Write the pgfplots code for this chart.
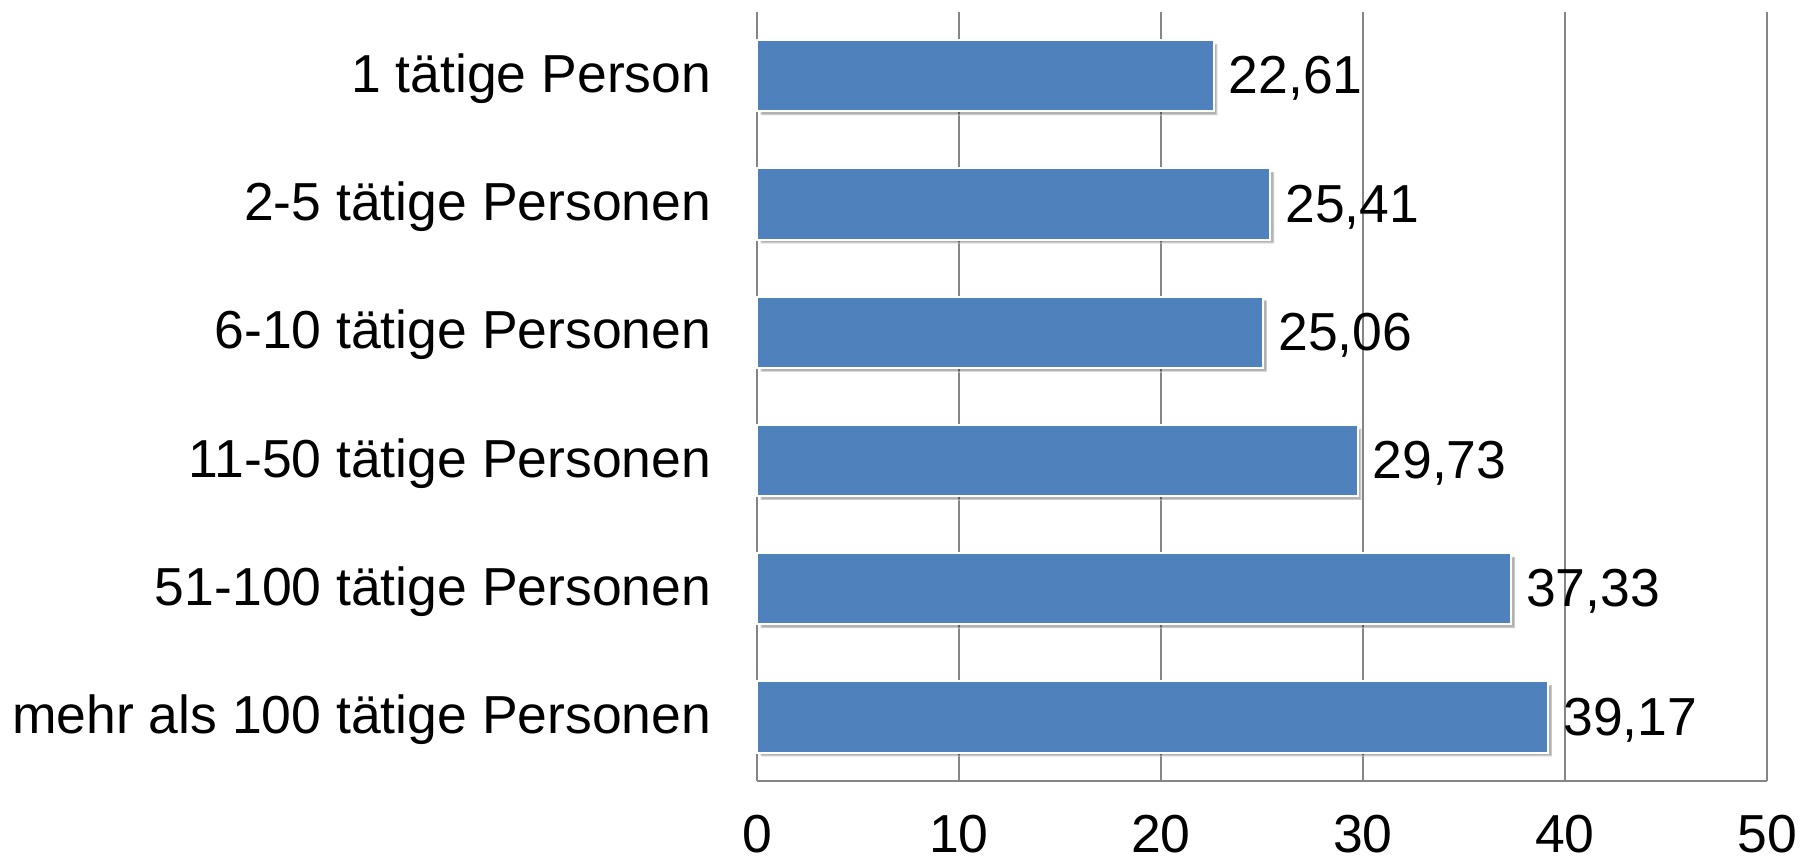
\documentclass[border=0pt]{standalone}
\usepackage{fontspec}
\setmainfont{Liberation Sans}
\usepackage{pgfplots}
\pgfplotsset{compat=1.18}
\usetikzlibrary{shadows}
\definecolor{barblue}{HTML}{4F81BD}
\definecolor{gridgray}{HTML}{868686}
\begin{document}
\begin{tikzpicture}[x=1pt,y=1pt]
\path[use as bounding box] (0,0) rectangle (720.4,345.6);
\begin{axis}[
  at={(302.8pt,33.2pt)}, anchor=south west,
  scale only axis, width=404pt, height=307.8pt,
  xbar, bar width=28.5pt,
  xmin=0, xmax=50, ymin=-0.5, ymax=5.5, y dir=reverse,
  xtick={0,10,20,30,40,50},
  xticklabels={0,10,20,30,40,50},
  ytick={0,1,2,3,4,5},
  yticklabels={1 tätige Person,2-5 tätige Personen,6-10 tätige Personen,11-50 tätige Personen,51-100 tätige Personen,mehr als 100 tätige Personen},
  axis x line=bottom, axis y line=left,
  axis line style={-, draw=gridgray, line width=0.8pt},
  xmajorgrids, major grid style={draw=gridgray, line width=0.8pt},
  major tick length=0pt,
  tick style={draw=none},
  font=\fontsize{21.4}{25}\selectfont,
  ticklabel style={font=\fontsize{21.4}{25}\selectfont, text=black},
  yticklabel style={xshift=-14.8pt, yshift=-1.2pt},
  xticklabel style={inner sep=0pt, yshift=-13.4pt},
  /pgf/number format/assume math mode=true,
  nodes near coords={\pgfmathprintnumber[fixed,precision=2,fixed zerofill,use comma,assume math mode=true]{\pgfplotspointmeta}},
  nodes near coords align={horizontal},
  every node near coord/.append style={font=\fontsize{21.4}{25}\selectfont, text=black, xshift=2.3pt, yshift=-1.2pt},
  clip=false,
]
\addplot[fill=barblue, draw=white, line width=0.8pt,
  drop shadow={shadow xshift=1.5pt, shadow yshift=-1.5pt, opacity=0.3, fill=black}]
  coordinates {(22.61,0) (25.41,1) (25.06,2) (29.73,3) (37.33,4) (39.17,5)};
\end{axis}
\end{tikzpicture}
\end{document}
